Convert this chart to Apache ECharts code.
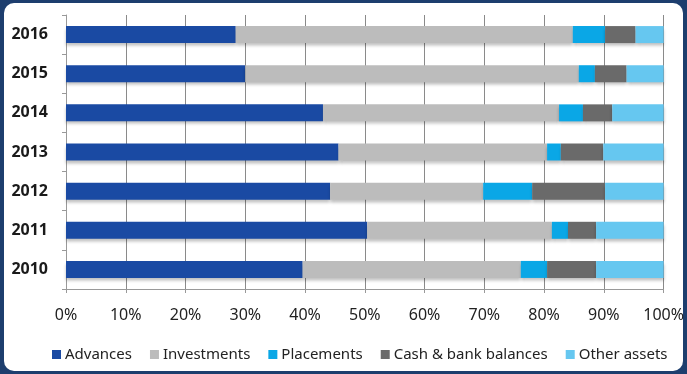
<!DOCTYPE html>
<html>
<head>
<meta charset="utf-8">
<script src="https://cdn.jsdelivr.net/npm/echarts@6/dist/echarts.min.js"></script>
<style>
html,body{margin:0;padding:0;background:#1d3e6e;}
#chart{width:687px;height:374px;}
</style>
</head>
<body>
<div id="chart"></div>
<script>
const years = ['2010', '2011', '2012', '2013', '2014', '2015', '2016'];
const advances    = [39.6, 50.4, 44.2, 45.6, 43.0, 30.0, 28.4];
const investments = [36.5, 30.9, 25.6, 34.9, 39.5, 55.8, 56.4];
const placements  = [4.4, 2.7, 8.2, 2.3, 4.0, 2.7, 5.4];
const cashBank    = [8.2, 4.7, 12.2, 7.1, 4.9, 5.3, 5.1];
const otherAssets = [11.3, 11.3, 9.8, 10.1, 8.6, 6.2, 4.7];
const seriesNames = ['Advances', 'Investments', 'Placements', 'Cash & bank balances', 'Other assets'];
const colors = ['#1a4aa3', '#bcbcbc', '#0aa7e6', '#6a6a6a', '#66c7f0'];
const xTicks = [0, 10, 20, 30, 40, 50, 60, 70, 80, 90, 100];

const seriesData = [advances, investments, placements, cashBank, otherAssets];
const font = '"Noto Sans", "Open Sans", sans-serif';

const chart = echarts.init(document.getElementById('chart'));
chart.setOption({
  backgroundColor: '#1d3e6e',
  animation: false,
  color: colors,
  graphic: [{
    type: 'rect',
    z: -10,
    shape: {x: 4, y: 3, width: 679, height: 368, r: 10},
    style: {fill: '#ffffff'}
  }],
  grid: {left: 66, right: 22, top: 15, bottom: 85, containLabel: false},
  legend: {
    bottom: 7,
    left: 47,
    itemWidth: 9,
    itemHeight: 9,
    itemGap: 18,
    icon: 'rect',
    textStyle: {fontFamily: font, fontSize: 15, color: '#222', padding: [0, 0, 0, -1]},
    data: seriesNames
  },
  xAxis: {
    type: 'value',
    min: 0,
    max: 100,
    interval: 10,
    axisLine: {show: true, lineStyle: {color: '#999'}},
    axisTick: {show: true, length: 4, inside: false, lineStyle: {color: '#999'}},
    splitLine: {show: true, lineStyle: {color: '#8a8a8a', width: 1}},
    axisLabel: {
      margin: 18,
      fontFamily: font,
      fontSize: 16,
      color: '#222',
      formatter: v => xTicks.includes(v) ? v + '%' : ''
    }
  },
  yAxis: {
    type: 'category',
    data: years,
    axisLine: {show: true, lineStyle: {color: '#999'}},
    axisTick: {show: true, length: 4, lineStyle: {color: '#999'}},
    axisLabel: {
      margin: 18,
      fontFamily: font,
      fontSize: 16,
      fontWeight: 'bold',
      color: '#1a1a1a'
    }
  },
  series: seriesNames.map((name, i) => ({
    name: name,
    type: 'bar',
    stack: 'total',
    barWidth: 17,
    data: seriesData[i],
    itemStyle: {
      color: colors[i],
      shadowColor: 'rgba(0,0,0,0.25)',
      shadowBlur: 3,
      shadowOffsetY: 3
    }
  }))
});
</script>
</body>
</html>
